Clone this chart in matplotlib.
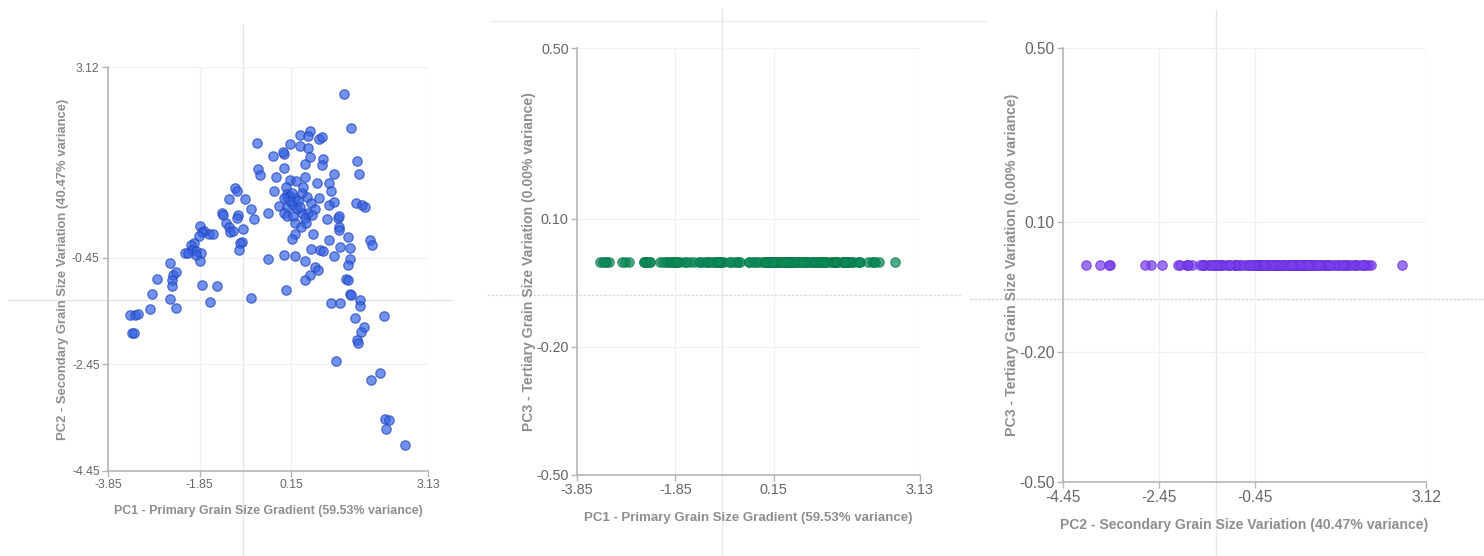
import matplotlib
matplotlib.use("Agg")
import matplotlib.pyplot as plt
from matplotlib.lines import Line2D

plt.rcParams['font.family'] = ['Liberation Sans', 'DejaVu Sans']

# ---- data ----
pc1 = [1.29, 1.45, -0.60, 0.11, 0.33, 0.56, 0.51, 0.33, 0.52, 0.76, 0.82, -0.26, -0.02, -0.04,
       0.56, 0.85, 0.81, 0.45, 1.59, 1.62, -0.57, -0.53, -0.02, -0.18, 0.11, 0.25, 0.45, 0.71,
       1.09, 0.96, 1.02, -0.22, 0.03, 0.06, 0.12, 0.23, 0.38, 0.49, 0.57, 0.76, 0.98, 1.07,
       1.56, 1.70, 1.76, -1.09, -1.03, -1.20, -0.86, -0.13, 0.05, 0.18, 0.27, 0.38, 0.52, 0.67,
       -0.74, -0.35, -1.37, -1.35, -1.01, -0.66, -0.02, 0.05, 0.19, 0.44, 0.60, 0.92, 1.16, 0.23,
       0.36, 0.47, -1.28, -1.20, -1.03, -0.91, -1.19, -1.12, -1.85, -1.76, -1.65, -1.55, 0.22, 0.63,
       1.18, 1.18, 1.38, 0.17, -0.92, -0.96, -1.81, -1.86, -1.97, -2.03, -2.01, -1.92, -1.82, -2.17,
       -2.10, -1.94, -1.85, -0.99, 0.96, 1.87, 1.91, 0.57, 0.78, 0.84, 1.22, 1.43, -0.02, 0.23,
       0.45, 1.07, 1.42, 1.38, -0.35, 0.67, 0.74, 0.56, 0.45, 1.34, 1.38, 1.42, 1.45, 0.03,
       -2.49, -2.43, -2.36, -2.45, -2.45, -2.79, -1.81, -1.47, -2.88, -2.49, -2.36, -2.94, -1.63, -0.74,
       -3.38, -3.27, -3.19, -3.32, -3.29, 1.01, 1.22, 1.64, 1.65, 2.16, 1.54, 1.74, 1.67, 1.58,
       1.60, 1.12, 2.08, 1.89, 2.20, 2.29, 2.22, 2.62, 0.05, 0.16, 0.11, 0.30, -0.02, 0.41,
       0.34, 1.18]

pc2 = [2.61, 1.97, 1.69, 1.67, 1.84, 1.92, 1.83, 1.64, 1.60, 1.77, 1.80, 1.46, 1.49, 1.53,
       1.44, 1.39, 1.29, 1.30, 1.36, 1.11, 1.21, 1.10, 1.22, 1.05, 1.01, 0.99, 1.05, 0.94,
       1.11, 0.94, 0.80, 0.80, 0.88, 0.74, 0.70, 0.66, 0.75, 0.69, 0.57, 0.66, 0.54, 0.59,
       0.57, 0.54, 0.50, 0.85, 0.80, 0.64, 0.65, 0.52, 0.50, 0.54, 0.45, 0.38, 0.39, 0.45,
       0.45, 0.39, 0.38, 0.35, 0.34, 0.27, 0.38, 0.32, 0.32, 0.29, 0.34, 0.27, 0.29, 0.19,
       0.13, 0.19, 0.19, 0.13, 0.29, 0.08, 0.02, 0.04, 0.14, 0.04, 0.00, -0.01, 0.00, 0.00,
       0.13, 0.07, -0.06, -0.10, -0.15, -0.18, 0.02, -0.04, -0.17, -0.22, -0.31, -0.33, -0.37, -0.37,
       -0.37, -0.40, -0.52, -0.30, -0.13, -0.12, -0.22, -0.29, -0.31, -0.32, -0.26, -0.27, -0.40, -0.43,
       -0.51, -0.43, -0.47, -0.59, -0.48, -0.62, -0.68, -0.78, -0.87, -0.86, -0.87, -1.13, -1.15, -1.05,
       -0.56, -0.78, -0.73, -0.87, -0.99, -0.86, -0.97, -0.98, -1.14, -1.22, -1.39, -1.42, -1.28, -1.20,
       -1.53, -1.53, -1.50, -1.86, -1.87, -1.30, -1.30, -1.25, -1.36, -1.54, -1.59, -1.75, -1.84, -2.00,
       -2.05, -2.39, -2.61, -2.75, -3.47, -3.50, -3.67, -3.96, 0.69, 0.75, 0.60, 0.60, 0.66, 0.88,
       0.50, 0.32]

PC3_VALUE = 0.0          # PC3 explains 0.00% variance: every sample sits at 0
pc3 = [PC3_VALUE] * len(pc1)

pc1_ticks = [-3.85, -1.85, 0.15, 3.13]
pc2_ticks = [-4.45, -2.45, -0.45, 3.12]
pc3_ticks = [-0.50, -0.20, 0.10, 0.50]

label_pc1 = "PC1 - Primary Grain Size Gradient (59.53% variance)"
label_pc2 = "PC2 - Secondary Grain Size Variation (40.47% variance)"
label_pc3 = "PC3 - Tertiary Grain Size Variation (0.00% variance)"

BLUE = "#3462e4"
GREEN = "#0c8a58"
PURPLE = "#7a3ff0"

W, H = 1484, 556
fig = plt.figure(figsize=(W / 100, H / 100), dpi=100)
fig.patch.set_facecolor("white")


def px_axes(l, r, t, b):
    return fig.add_axes([l / W, 1 - b / H, (r - l) / W, (b - t) / H])


def style(ax, xt, yt, xlab, ylab, tick_fs, xlab_fs, ylab_fs):
    ax.set_xticks(xt)
    ax.set_yticks(yt)
    ax.set_xlim(xt[0], xt[-1])
    ax.set_ylim(yt[0], yt[-1])
    ax.set_xticklabels([f"{v:.2f}" for v in xt])
    ax.set_yticklabels([f"{v:.2f}" for v in yt])
    for s in ("top", "right"):
        ax.spines[s].set_visible(False)
    for s in ("left", "bottom"):
        ax.spines[s].set_color("#b5b5b5")
        ax.spines[s].set_linewidth(1.2)
    ax.tick_params(axis="both", colors="#b5b5b5", labelcolor="#666666",
                   labelsize=tick_fs, length=4, width=1.0, pad=2)
    ax.grid(True, color="#f1f1f1", linewidth=0.9)
    ax.set_axisbelow(True)
    ax.set_xlabel(xlab, fontsize=xlab_fs, fontweight="bold", color="#8e8e8e", va="center")
    ax.set_ylabel(ylab, fontsize=ylab_fs, fontweight="bold", color="#8e8e8e", va="center")
    ax.xaxis.set_label_coords(0.5, -0.10)
    ax.yaxis.set_label_coords(-0.14, 0.5)


# decorative crosshair / frame lines of the screenshot
def fline(x0, y0, x1, y1, **kw):
    fig.add_artist(Line2D([x0 / W, x1 / W], [1 - y0 / H, 1 - y1 / H],
                          transform=fig.transFigure, **kw))

fline(243, 25, 243, 556, color="#e6e6e6", lw=1.0, zorder=0)
fline(8, 300, 452, 300, color="#e3e3e3", lw=1.0, zorder=0)
fline(722, 8, 722, 556, color="#e6e6e6", lw=1.0, zorder=0)
fline(487, 295, 962, 295, color="#dcdcdc", lw=1.0, ls=(0, (2, 1)), zorder=0)
fline(490, 21, 986, 21, color="#ededed", lw=1.0, zorder=0)
fline(1216, 10, 1216, 556, color="#e6e6e6", lw=1.0, zorder=0)
fline(970, 299, 1484, 299, color="#d8d8d8", lw=1.0, ls=(0, (2, 1)), zorder=0)

# Panel 1: PC1 vs PC2
ax1 = px_axes(108, 428, 67, 471)
ax1.patch.set_alpha(0)
ax1.scatter(pc1, pc2, s=46, color=BLUE, alpha=0.7, edgecolors="#2446b8", linewidths=0.9,
            zorder=3)
style(ax1, pc1_ticks, pc2_ticks, label_pc1, label_pc2, 8.7, 8.9, 9.4)

# Panel 2: PC1 vs PC3
ax2 = px_axes(577, 920, 48, 475)
ax2.patch.set_alpha(0)
ax2.scatter(pc1, pc3, s=46, color=GREEN, alpha=0.72, edgecolors="#0b7a4d", linewidths=0.9,
            zorder=3)
style(ax2, pc1_ticks, pc3_ticks, label_pc1, label_pc3, 10.4, 9.55, 10.1)

# Panel 3: PC2 vs PC3
ax3 = px_axes(1063, 1426, 48, 482)
ax3.patch.set_alpha(0)
ax3.scatter(pc2, pc3, s=46, color=PURPLE, alpha=0.72, edgecolors="#6a30d8", linewidths=0.9,
            zorder=3)
style(ax3, pc2_ticks, pc3_ticks, label_pc2, label_pc3, 11.2, 10.1, 10.2)

fig.savefig("out.png", dpi=100, facecolor="white")
